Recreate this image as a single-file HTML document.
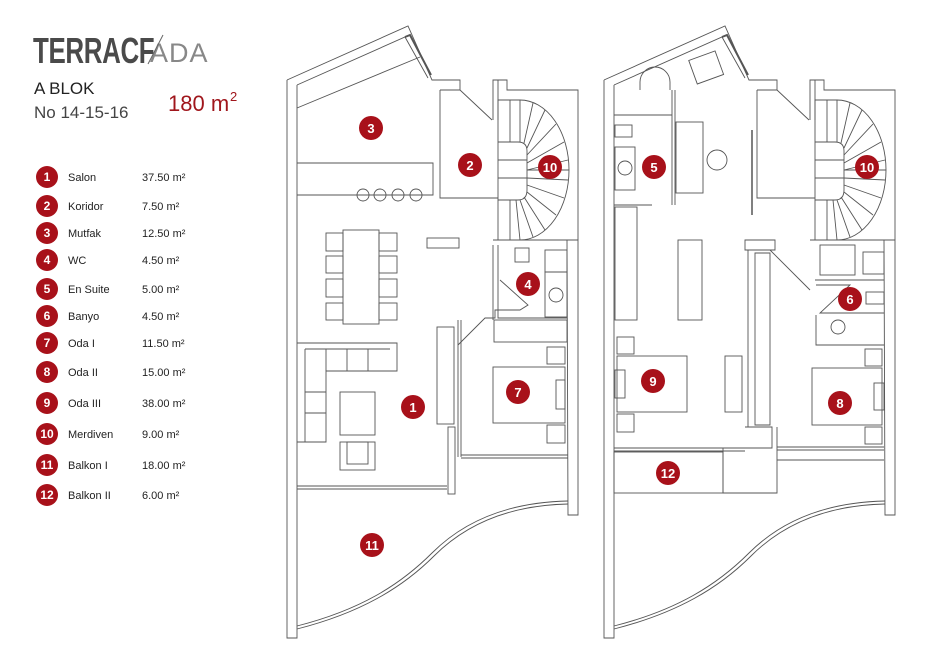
<!DOCTYPE html>
<html><head><meta charset="utf-8"><style>
html,body{margin:0;padding:0;background:#fff;}
svg{display:block;font-family:"Liberation Sans",Arial,sans-serif;}
</style></head><body>
<svg width="940" height="664" viewBox="0 0 940 664" xmlns="http://www.w3.org/2000/svg">
<rect width="940" height="664" fill="#fff"/>
<!-- header -->
<text x="33" y="63" font-size="36" font-weight="bold" fill="#4a4a4a" transform="translate(33 0) scale(0.72 1) translate(-33 0)" letter-spacing="-0.5">TERRACF</text>
<text x="150" y="62" font-size="27" fill="#888" letter-spacing="1">ADA</text>
<line x1="148" y1="64" x2="163" y2="35" stroke="#666" stroke-width="1"/>
<text x="34" y="94" font-size="17" fill="#222">A BLOK</text>
<text x="34" y="118" font-size="17" fill="#444">No 14-15-16</text>
<text x="168" y="111" font-size="22" fill="#a0161c">180 m</text>
<text x="230" y="101" font-size="13" fill="#a0161c">2</text>

<g fill="#a8111a">
<circle cx="47" cy="177" r="11"/><circle cx="47" cy="206" r="11"/><circle cx="47" cy="233" r="11"/><circle cx="47" cy="260" r="11"/><circle cx="47" cy="289" r="11"/><circle cx="47" cy="316" r="11"/><circle cx="47" cy="343" r="11"/><circle cx="47" cy="372" r="11"/><circle cx="47" cy="403" r="11"/><circle cx="47" cy="434" r="11"/><circle cx="47" cy="465" r="11"/><circle cx="47" cy="495" r="11"/>
</g>
<g font-size="12" font-weight="bold" fill="#fff" text-anchor="middle">
<text x="47" y="181">1</text><text x="47" y="210">2</text><text x="47" y="237">3</text><text x="47" y="264">4</text><text x="47" y="293">5</text><text x="47" y="320">6</text><text x="47" y="347">7</text><text x="47" y="376">8</text><text x="47" y="407">9</text><text x="47" y="438">10</text><text x="47" y="469">11</text><text x="47" y="499">12</text>
</g>
<g font-size="11" fill="#222">
<text x="68" y="181">Salon</text><text x="142" y="181">37.50 m²</text>
<text x="68" y="210">Koridor</text><text x="142" y="210">7.50 m²</text>
<text x="68" y="237">Mutfak</text><text x="142" y="237">12.50 m²</text>
<text x="68" y="264">WC</text><text x="142" y="264">4.50 m²</text>
<text x="68" y="293">En Suite</text><text x="142" y="293">5.00 m²</text>
<text x="68" y="320">Banyo</text><text x="142" y="320">4.50 m²</text>
<text x="68" y="347">Oda I</text><text x="142" y="347">11.50 m²</text>
<text x="68" y="376">Oda II</text><text x="142" y="376">15.00 m²</text>
<text x="68" y="407">Oda III</text><text x="142" y="407">38.00 m²</text>
<text x="68" y="438">Merdiven</text><text x="142" y="438">9.00 m²</text>
<text x="68" y="469">Balkon I</text><text x="142" y="469">18.00 m²</text>
<text x="68" y="499">Balkon II</text><text x="142" y="499">6.00 m²</text>
</g>

<defs>
<g id="shell" fill="none" stroke="#555" stroke-width="0.9">
  <path d="M287,80 L287,638 L297,638 L297,85"/>
  <path d="M287,80 L408,26 L432,80 L460,80 L460,90"/>
  <path d="M297,85 L405,37 L428,78"/>
  <path d="M405,37 L410,35 L431,75" stroke-width="2"/>
  <path d="M440,90 L460,90 L492,120"/>
  <path d="M493,120 L493,80 L507,80 L507,90 L578,90 L578,240"/>
  <path d="M498,80 L498,120"/>
  <path d="M440,90 L440,198 L498,198"/>
  <path d="M498,100 L520,100 A49,70 0 0 1 520,240 L498,240 Z"/>
  <path d="M498,142 L518,142 Q527,142 527,151 L527,190 Q527,200 518,200 L498,200"/>
  <path d="M510,100 L510,142 M520,100 L520,142 M533,103 L524,143 M545,110 L527,148 M556,124 L527,155 M564,142 L527,163 M568,160 L527,170 M569,170 L527,170 M568,180 L527,178 M564,198 L527,185 M556,215 L527,192 M545,230 L524,197 M533,237 L520,200 M520,240 L516,200 M510,240 L510,200 M498,160 L527,160 M498,178 L527,178"/>
  <path d="M567,240 L578,240 L578,515 L568,515 Z"/>
  <path d="M493,240 L567,240"/>
  <path d="M297,626 C360,610 400,585 432,553 C470,515 520,502 568,501"/>
  <path d="M297,629 C360,613 402,588 434,556 C472,518 520,505 568,504"/>
</g>
</defs>

<use href="#shell"/>
<g fill="none" stroke="#555" stroke-width="0.9">
  <line x1="297" y1="108" x2="420" y2="57"/>
  <path d="M297,163 L433,163 L433,195 L297,195"/>
  <circle cx="363" cy="195" r="6"/><circle cx="380" cy="195" r="6"/><circle cx="398" cy="195" r="6"/><circle cx="416" cy="195" r="6"/>
  <rect x="343" y="230" width="36" height="94"/>
  <rect x="326" y="233" width="17" height="18"/><rect x="326" y="256" width="17" height="17"/><rect x="326" y="279" width="17" height="18"/><rect x="326" y="303" width="17" height="17"/>
  <rect x="379" y="233" width="18" height="18"/><rect x="379" y="256" width="18" height="17"/><rect x="379" y="279" width="18" height="18"/><rect x="379" y="303" width="18" height="17"/>
  <rect x="427" y="238" width="32" height="10"/>
  <path d="M498,245 L498,270 M493,245 L493,320 M498,245 L498,318 L567,318"/>
  <rect x="515" y="248" width="14" height="14"/>
  <rect x="545" y="250" width="22" height="22"/>
  <rect x="545" y="272" width="22" height="45"/>
  <circle cx="556" cy="295" r="7"/>
  <path d="M500,280 L528,305 L520,310 L495,310 L495,318 L485,318 L458,345"/>
  <path d="M297,343 L397,343 L397,371 L326,371 L326,442 L297,442"/>
  <path d="M305,349 L305,442 M305,349 L390,349 M326,349 L326,371 M347,349 L347,371 M368,349 L368,371 M305,392 L326,392 M305,413 L326,413"/>
  <rect x="340" y="392" width="35" height="43"/>
  <rect x="340" y="442" width="35" height="28"/><rect x="347" y="442" width="21" height="22"/>
  <rect x="437" y="327" width="17" height="97"/>
  <rect x="448" y="427" width="7" height="67"/>
  <path d="M297,486 L447,486 M297,489 L447,489"/>
  <path d="M458,320 L458,457 M461,320 L461,457"/>
  <rect x="494" y="320" width="73" height="22"/>
  <rect x="493" y="367" width="72" height="56"/>
  <rect x="556" y="380" width="9" height="29"/>
  <rect x="547" y="347" width="18" height="17"/><rect x="547" y="425" width="18" height="18"/>
  <path d="M461,455 L568,455 M461,458 L568,458"/>
</g>

<use href="#shell" transform="translate(317 0)"/>
<g fill="none" stroke="#555" stroke-width="0.9">
  <path d="M614,115 L672,115 M672,90 L672,205 M675,90 L675,205"/>
  <path d="M640,90 L640,82 A15,15 0 0 1 670,82 L670,90"/>
  <rect x="692" y="55" width="28" height="25" transform="rotate(-20 706 67)"/>
  <rect x="615" y="125" width="17" height="12"/>
  <rect x="615" y="147" width="20" height="43"/>
  <circle cx="625" cy="168" r="7"/>
  <rect x="676" y="122" width="27" height="71"/>
  <circle cx="717" cy="160" r="10"/>
  <path d="M752,130 L752,215" stroke-width="1.5"/>
  <path d="M614,205 L652,205"/>
  <rect x="615" y="207" width="22" height="113"/>
  <rect x="678" y="240" width="24" height="80"/>
  <path d="M745,240 L775,240 L775,250 L745,250 Z"/>
  <path d="M748,250 L748,427 M755,253 L755,425 L770,425 L770,253 Z"/>
  <path d="M770,250 L810,290"/>
  <rect x="820" y="245" width="35" height="30"/>
  <rect x="863" y="252" width="21" height="22"/>
  <path d="M815,280 L884,280 M816,285 L850,285 L820,313 L884,313"/>
  <rect x="866" y="292" width="18" height="12"/>
  <path d="M816,315 L816,345 L884,345"/>
  <circle cx="838" cy="327" r="7"/>
  <rect x="617" y="356" width="70" height="56"/>
  <rect x="615" y="370" width="10" height="28"/>
  <rect x="617" y="337" width="17" height="17"/><rect x="617" y="414" width="17" height="18"/>
  <rect x="725" y="356" width="17" height="56"/>
  <path d="M614,448 L745,448 M614,451 L745,451"/>
  <rect x="614" y="452" width="109" height="41"/>
  <path d="M745,427 L772,427 L772,448 L723,448 L723,493 L777,493 L777,427"/>
  <rect x="812" y="368" width="70" height="57"/>
  <rect x="874" y="383" width="10" height="27"/>
  <rect x="865" y="349" width="17" height="17"/><rect x="865" y="427" width="17" height="17"/>
  <path d="M777,447 L884,447 M777,450 L884,450 M777,460 L884,460"/>
</g>

<g fill="#a8111a">
<circle cx="371" cy="128" r="12"/><circle cx="470" cy="165" r="12"/><circle cx="550" cy="167" r="12"/><circle cx="528" cy="284" r="12"/><circle cx="413" cy="407" r="12"/><circle cx="518" cy="392" r="12"/><circle cx="372" cy="545" r="12"/>
<circle cx="654" cy="167" r="12"/><circle cx="867" cy="167" r="12"/><circle cx="850" cy="299" r="12"/><circle cx="653" cy="381" r="12"/><circle cx="840" cy="403" r="12"/><circle cx="668" cy="473" r="12"/>
</g>
<g font-size="13" font-weight="bold" fill="#fff" text-anchor="middle">
<text x="371" y="133">3</text><text x="470" y="170">2</text><text x="550" y="172">10</text><text x="528" y="289">4</text><text x="413" y="412">1</text><text x="518" y="397">7</text><text x="372" y="550">11</text>
<text x="654" y="172">5</text><text x="867" y="172">10</text><text x="850" y="304">6</text><text x="653" y="386">9</text><text x="840" y="408">8</text><text x="668" y="478">12</text>
</g>
</svg>
</body></html>
